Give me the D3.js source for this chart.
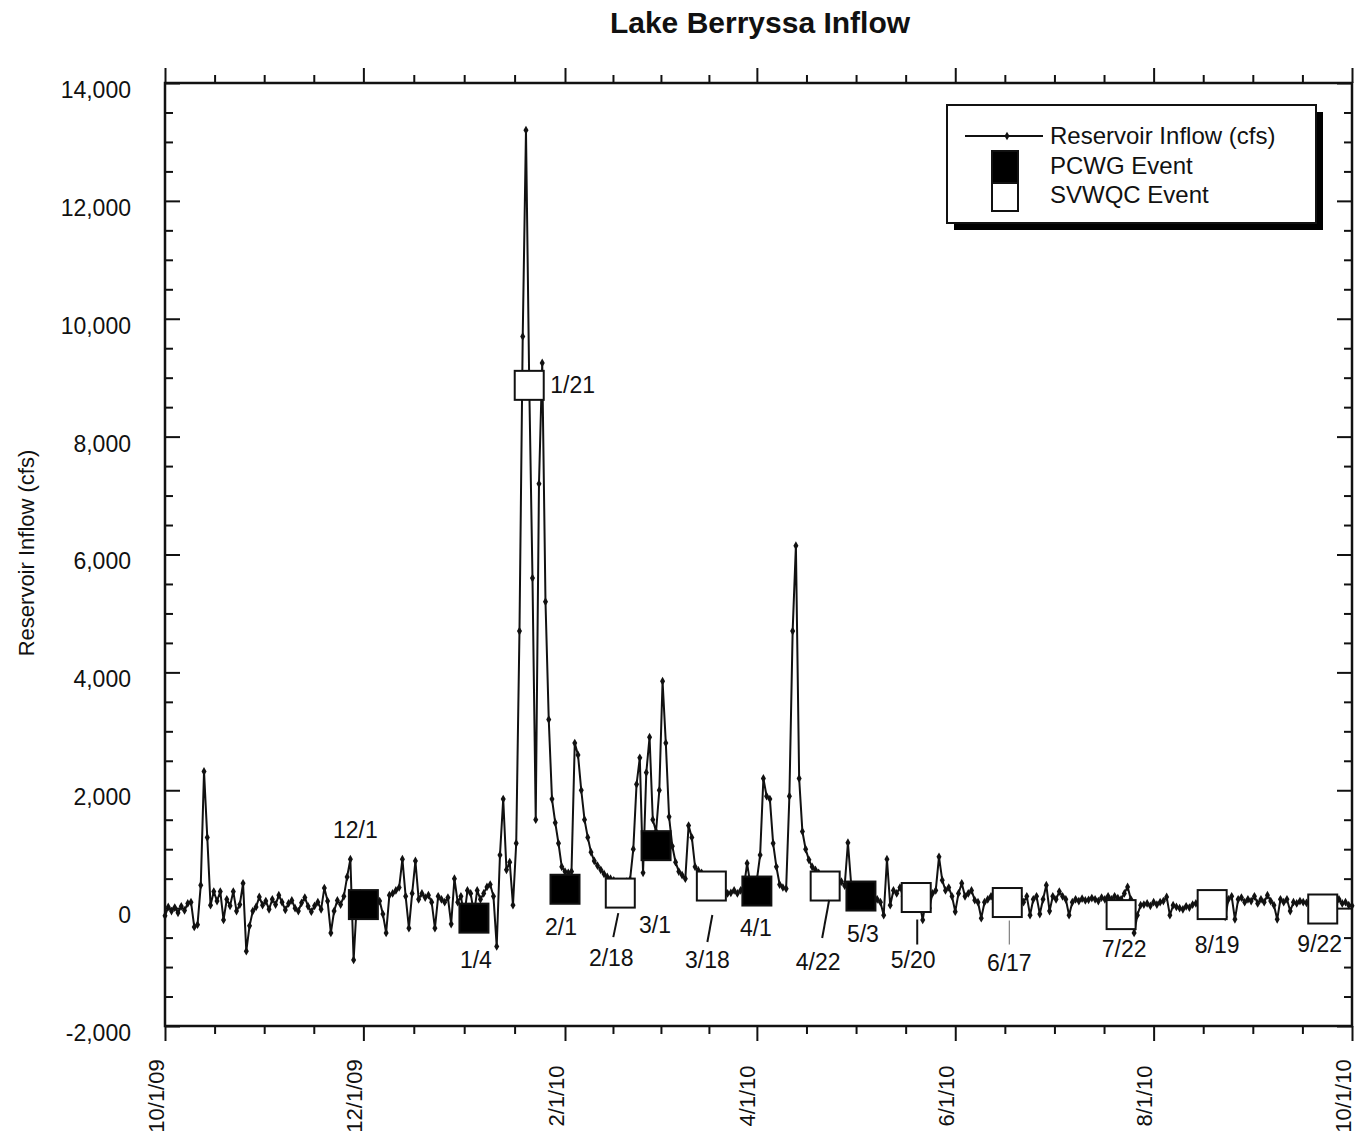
<!DOCTYPE html>
<html>
<head>
<meta charset="utf-8">
<script src="https://cdnjs.cloudflare.com/ajax/libs/d3/7.8.5/d3.min.js"></script>
<style>
  body { margin: 0; background: #fff; }
  #chart text { font-family: "Liberation Sans", Arial, sans-serif; fill: #111; }
</style>
</head>
<body>
<svg id="chart" width="1356" height="1142"></svg>
<script>
// daily reservoir inflow (cfs), starting 10/1/2009
var firstDay = "2009-10-01"
var inflow = [
  -130, 20, -50, 10, -80, 30, -40, 80, 100, -320, -280, 390, 2320, 1200, 50, 280, 120, 280, -200, 150,
  40, 280, -50, 60, 420, -730, -300, -50, 20, 190, 50,
  120, -20, 150, 60, 220, 100, -30, 80, 130, 0, -50, 90, 180, 30, -60, 40, 100, -20, 340, 120,
  -420, -50, 130, 60, 200, 530, 830, -880, 100, 250,
  150, 50, 200, -100, 80, 120, -100, -420, 220, 250, 300, 350, 830, 200, -340, 250, 800, 150, 250, 180,
  220, 100, -340, 200, 150, 100, 180, -270, 500, 100, 200, -150, 300, 250, -100, 300, 150, 250, 360, 400,
  200, -650, 900, 1850, 650, 780, 50, 1100, 4700, 9700, 13200, 8900, 5600, 1500, 7200, 9250, 5200, 3200, 1850, 1450,
  1100, 700, 620, 600, 620, 2800, 2600, 2000, 1500, 1200, 950, 800, 720, 650, 580, 530, 500, 470, 440, 420,
  430, 450, 480, 1000, 2100, 2550, 600, 2300, 2900, 1500, 1300, 2000, 3850, 2800, 1550, 1050, 780, 620, 560, 500,
  1400, 1200, 700, 640, 600, 520, 480, 450, 400, 370, 360, 300, 250, 260, 300, 250, 300, 350, 760, 400,
  450, 480, 900, 2200, 1900, 1850, 1100, 700, 400, 350, 330, 1900, 4700, 6150, 2200, 1300, 1000, 820, 700, 650,
  600, 550, 500, 450, 420, 450, 400, 450, 380, 1110, 400, 350, 300, 250, 200, 300, 250, 200, 150, 100,
  -120, 830, 50, 300, 250, 350, 200, 250, 150, 200, 100, 100, -200, 150, 0, 250, 300, 870, 475, 300,
  350, 200, -60, 250, 420, 200, 250, 300, 135, 100, -170, 100, 150, 200, 100, 150, 120, 80, 100, 150,
  180, 150, 200, 100, 200, -120, 150, 200, -100, 150, 390, -50, 200, 150, 280, 200, 150, -120, 100, 150,
  120, 160, 130, 140, 170, 150, 120, 180, 150, 200, 150, 200, 170, 150, 250, 360, 150, -420, -120, 50,
  60, 80, 40, 100, 60, 100, 120, 190, -120, 50, 20, 0, -20, 30, 10, 60, 80, 100, 100, 120,
  130, 150, 100, 200, 100, -150, 150, 200, -190, 150, 180, 100, 150, 120, 200, 80, 150, 100, 220, 120,
  50, -190, 150, 100, 150, -50, 100, 80, 120, 100, 90, 110, 130, 100, 80, 60, 80, 100, 120, 60,
  150, 80, 100, 50, 40
]

// sampling events
var eventDates = ["2009-12-01", "2010-01-04", "2010-01-21", "2010-02-01", "2010-02-18", "2010-03-01", "2010-03-18",
  "2010-04-01", "2010-04-22", "2010-05-03", "2010-05-20", "2010-06-17", "2010-07-22", "2010-08-19", "2010-09-22"]
var eventValues = [60, -170, 8870, 320, 255, 1060, 375, 290, 375, 205, 180, 95, -110, 60, -15]
var eventGroups = ["PCWG", "PCWG", "SVWQC", "PCWG", "SVWQC", "PCWG", "SVWQC",
  "PCWG", "SVWQC", "PCWG", "SVWQC", "SVWQC", "SVWQC", "SVWQC", "SVWQC"]
var eventLabels = ["12/1", "1/4", "1/21", "2/1", "2/18", "3/1", "3/18", "4/1", "4/22", "5/3", "5/20", "6/17", "7/22", "8/19", "9/22"]

var xTickDates = ["2009-10-01", "2009-12-01", "2010-02-01", "2010-04-01", "2010-06-01", "2010-08-01", "2010-10-01"]
var yTicks = [-2000, 0, 2000, 4000, 6000, 8000, 10000, 12000, 14000]
var legendLabels = ["Reservoir Inflow (cfs)", "PCWG Event", "SVWQC Event"]

var parseDay = d3.utcParse("%Y-%m-%d")
var fmtDay = d3.utcFormat("%-m/%-d/%y")
var fmtNum = function (v) { return d3.format(",")(v).replace("\u2212", "-") }

var svg = d3.select("#chart")
var plotLeft = 165, plotRight = 1352, plotTop = 83, plotBottom = 1026

var x = d3.scaleUtc()
    .domain([parseDay(xTickDates[0]), parseDay(xTickDates[xTickDates.length - 1])])
    .range([plotLeft, plotRight])

var y = d3.scaleLinear()
    .domain([-2000, 14000])
    .range([plotBottom, plotTop])

// title
svg.append("text")
    .attr("x", 760).attr("y", 33)
    .attr("text-anchor", "middle")
    .style("font-size", "30px").style("font-weight", "bold")
    .text("Lake Berryssa Inflow")

// minor ticks: 4 steps between each labelled tick
var majorX = xTickDates.map(parseDay)
var minorX = []
for (var i = 0; i < majorX.length - 1; i++) {
    for (var k = 1; k < 4; k++) {
        minorX.push(x.invert(x(majorX[i]) + k * (x(majorX[i + 1]) - x(majorX[i])) / 4))
    }
}
var minorY = d3.range(-2000, 14001, 500).filter(function (v) { return v % 2000 != 0 })

// axes
svg.append("g").attr("transform", "translate(0," + plotTop + ")")
    .call(d3.axisTop(x).tickValues(minorX).tickSize(8).tickFormat(""))
svg.append("g").attr("transform", "translate(0," + plotTop + ")")
    .call(d3.axisTop(x).tickValues(majorX).tickSize(15).tickFormat(""))
svg.append("g").attr("transform", "translate(0," + plotBottom + ")")
    .call(d3.axisBottom(x).tickValues(minorX).tickSize(8).tickFormat(""))
var gBot = svg.append("g").attr("transform", "translate(0," + plotBottom + ")")
    .call(d3.axisBottom(x).tickValues(majorX).tickSize(15).tickFormat(""))
svg.append("g").attr("transform", "translate(" + plotLeft + ",0)")
    .call(d3.axisLeft(y).tickValues(minorY).tickSizeInner(-8).tickSizeOuter(0).tickFormat(""))
var gLeft = svg.append("g").attr("transform", "translate(" + plotLeft + ",0)")
    .call(d3.axisLeft(y).tickValues(yTicks).tickSizeInner(-15).tickSizeOuter(0).tickPadding(34).tickFormat(fmtNum))
svg.append("g").attr("transform", "translate(" + plotRight + ",0)")
    .call(d3.axisRight(y).tickValues(minorY).tickSizeInner(-8).tickSizeOuter(0).tickFormat(""))
svg.append("g").attr("transform", "translate(" + plotRight + ",0)")
    .call(d3.axisRight(y).tickValues(yTicks).tickSizeInner(-15).tickSizeOuter(0).tickFormat(""))

svg.selectAll(".domain").remove()
svg.selectAll(".tick line").attr("stroke", "#111").attr("stroke-width", 2)
gLeft.selectAll(".tick text")
    .attr("dy", "0.32em")
    .attr("transform", "translate(0,7)")
    .style("font-size", "23px").style("fill", "#111")
    .style("font-family", "\"Liberation Sans\", Arial, sans-serif")

// x labels, rotated
gBot.selectAll(".tick").append("text")
    .attr("transform", "translate(-2,70) rotate(-90)")
    .attr("text-anchor", "middle")
    .style("font-size", "22px").style("fill", "#111")
    .style("font-family", "\"Liberation Sans\", Arial, sans-serif")
    .text(function (d) { return fmtDay(d) })

// frame
svg.append("rect")
    .attr("x", plotLeft).attr("y", plotTop)
    .attr("width", plotRight - plotLeft).attr("height", plotBottom - plotTop)
    .attr("fill", "none").attr("stroke", "#111").attr("stroke-width", 2.5)

// y title
svg.append("text")
    .attr("transform", "translate(34,553) rotate(-90)")
    .attr("text-anchor", "middle")
    .style("font-size", "22px")
    .text("Reservoir Inflow (cfs)")

// inflow series
var series = inflow.map(function (v, i) {
    return { date: d3.utcDay.offset(parseDay(firstDay), i), value: v }
})

svg.append("path")
    .datum(series)
    .attr("fill", "none")
    .attr("stroke", "#111")
    .attr("stroke-width", 2)
    .attr("d", d3.line().x(function (d) { return x(d.date) }).y(function (d) { return y(d.value) }))

svg.selectAll(".pt")
    .data(series)
    .enter().append("path")
    .attr("class", "pt")
    .attr("transform", function (d) { return "translate(" + x(d.date) + "," + y(d.value) + ")" })
    .attr("d", d3.symbol().type(d3.symbolDiamond).size(22))
    .attr("fill", "#111")

// events
var events = eventDates.map(function (d, i) {
    return { date: parseDay(d), value: eventValues[i], group: eventGroups[i], label: eventLabels[i] }
})

// where each label sits relative to its square (dx, dy, anchor, leader line)
var labelPlace = {
    "12/1": [-8, -75], "1/4": [2, 42], "1/21": [21, 0, "start"], "2/1": [-4, 38],
    "2/18": [-9, 65, "middle", [-2, 20, -7, 44]], "3/1": [-1, 79],
    "3/18": [-4, 74, "middle", [1, 29, -4, 56]], "4/1": [-1, 37],
    "4/22": [-7, 76, "middle", [4, 14, -3, 52]], "5/3": [2, 38],
    "5/20": [-3, 62, "middle", [1, 22, 1, 47]], "6/17": [2, 60, "middle", [2, 18, 2, 42]],
    "7/22": [3, 34], "8/19": [5, 40], "9/22": [-3, 35]
}

var box = 29
svg.selectAll(".evt")
    .data(events)
    .enter().append("rect")
    .attr("class", "evt")
    .attr("x", function (d) { return x(d.date) - box / 2 })
    .attr("y", function (d) { return y(d.value) - box / 2 })
    .attr("width", box).attr("height", box)
    .attr("fill", function (d) { return d.group == "PCWG" ? "#000" : "#fff" })
    .attr("stroke", "#111").attr("stroke-width", 2)

events.forEach(function (d) {
    var p = labelPlace[d.label]
    var cx = x(d.date), cy = y(d.value)
    if (p[3]) {
        svg.append("line")
            .attr("x1", cx + p[3][0]).attr("y1", cy + p[3][1])
            .attr("x2", cx + p[3][2]).attr("y2", cy + p[3][3])
            .attr("stroke", d.label == "6/17" ? "#666" : "#111")
            .attr("stroke-width", d.label == "6/17" ? 1 : 2)
    }
    svg.append("text")
        .attr("x", cx + p[0]).attr("y", cy + p[1])
        .attr("dy", "0.35em")
        .attr("text-anchor", p[2] || "middle")
        .style("font-size", "23px")
        .text(d.label)
})

// legend
var lg = svg.append("g").attr("transform", "translate(947,105)")
lg.append("rect").attr("x", 7).attr("y", 7).attr("width", 369).attr("height", 118).attr("fill", "#000")
lg.append("rect").attr("x", 0).attr("y", 0).attr("width", 369).attr("height", 118)
    .attr("fill", "#fff").attr("stroke", "#111").attr("stroke-width", 2)
lg.append("line").attr("x1", 18).attr("x2", 96).attr("y1", 31).attr("y2", 31)
    .attr("stroke", "#111").attr("stroke-width", 2)
lg.append("path").attr("transform", "translate(60,31)")
    .attr("d", d3.symbol().type(d3.symbolDiamond).size(22)).attr("fill", "#111")
lg.append("rect").attr("x", 45).attr("y", 46).attr("width", 26).attr("height", 32)
    .attr("fill", "#000").attr("stroke", "#111").attr("stroke-width", 2)
lg.append("rect").attr("x", 45).attr("y", 78).attr("width", 26).attr("height", 28)
    .attr("fill", "#fff").attr("stroke", "#111").attr("stroke-width", 2)
lg.selectAll(".lt")
    .data(legendLabels)
    .enter().append("text")
    .attr("class", "lt")
    .attr("x", 103)
    .attr("y", function (d, i) { return 31 + i * 29.5 })
    .attr("dy", "0.35em")
    .style("font-size", "24px")
    .text(function (d) { return d })
</script>
</body>
</html>
